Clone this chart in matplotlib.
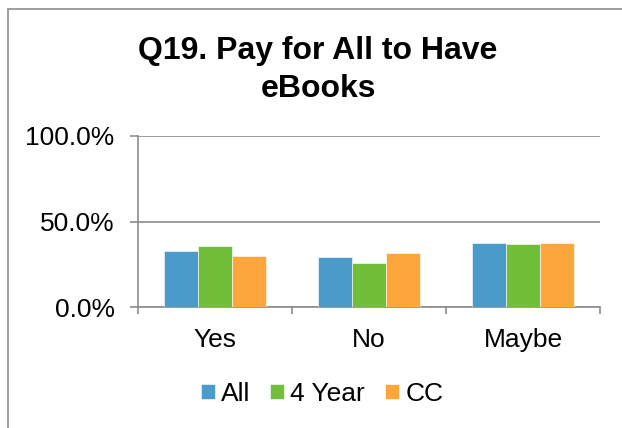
import matplotlib
matplotlib.use("Agg")
import matplotlib.pyplot as plt
from matplotlib.patches import Rectangle
from matplotlib.ticker import FuncFormatter, FixedLocator
import numpy as np

plt.rcParams['font.family'] = ['Liberation Sans', 'DejaVu Sans']

# data
categories = ["Yes", "No", "Maybe"]
series_names = ["All", "4 Year", "CC"]
all_vals = [32.6, 29.3, 37.5]
four_year_vals = [35.9, 25.8, 36.9]
cc_vals = [29.9, 31.5, 37.5]
colors = ["#4A9BCA", "#70BE3A", "#FCA63B"]

W, H = 622, 428
fig = plt.figure(figsize=(W / 100, H / 100), dpi=100)

# outer chart frame (cut off at right and bottom)
fig.patches.append(Rectangle((8 / W, -0.1), 1.2, 1 - 8.7 / H + 0.1,
                             transform=fig.transFigure, fill=False,
                             edgecolor="#8C8C8C", linewidth=1.2))

ax = fig.add_axes([138.3 / W, 1 - 307.3 / H, (600 - 138.3) / W, (307.3 - 135.7) / H])

x = np.arange(len(categories))
bw = 0.222
for i, (vals, name) in enumerate(zip([all_vals, four_year_vals, cc_vals], series_names)):
    ax.bar(x + (i - 1) * bw, vals, bw, color=colors[i], label=name, zorder=3,
           edgecolor="white", linewidth=0.4)

ax.set_xlim(-0.5, len(categories) - 0.5)
ax.set_ylim(0, 100)
ax.set_yticks([0, 50, 100])
ax.yaxis.set_major_formatter(FuncFormatter(lambda v, p: f"{v:.1f}%"))
ax.grid(axis="y", color="#8C8C8C", linewidth=1.2, zorder=0)

ax.set_xticks(x)
ax.set_xticklabels(categories)
ax.xaxis.set_minor_locator(FixedLocator(np.arange(-0.5, len(categories), 1.0)))
ax.tick_params(axis="x", which="major", length=0, pad=15, labelsize=19)
ax.tick_params(axis="x", which="minor", length=5, width=1.2, color="#8C8C8C")
ax.tick_params(axis="y", length=6, width=1.2, color="#8C8C8C", pad=11, labelsize=19)

for s in ["top", "right"]:
    ax.spines[s].set_visible(False)
for s in ["left", "bottom"]:
    ax.spines[s].set_color("#8C8C8C")
    ax.spines[s].set_linewidth(1.2)

fig.text(318 / W, 1 - 59 / H, "Q19. Pay for All to Have", ha="center", va="baseline",
         fontsize=23, fontweight="bold")
fig.text(318 / W, 1 - 96.7 / H, "eBooks", ha="center", va="baseline",
         fontsize=23, fontweight="bold")

fig.legend(loc="center", bbox_to_anchor=(322 / W, 1 - 394 / H), ncol=3, frameon=False,
           fontsize=19, handlelength=0.53, handleheight=0.53, handletextpad=0.23,
           columnspacing=0.76, borderpad=0)

fig.savefig("out.png", dpi=100)
